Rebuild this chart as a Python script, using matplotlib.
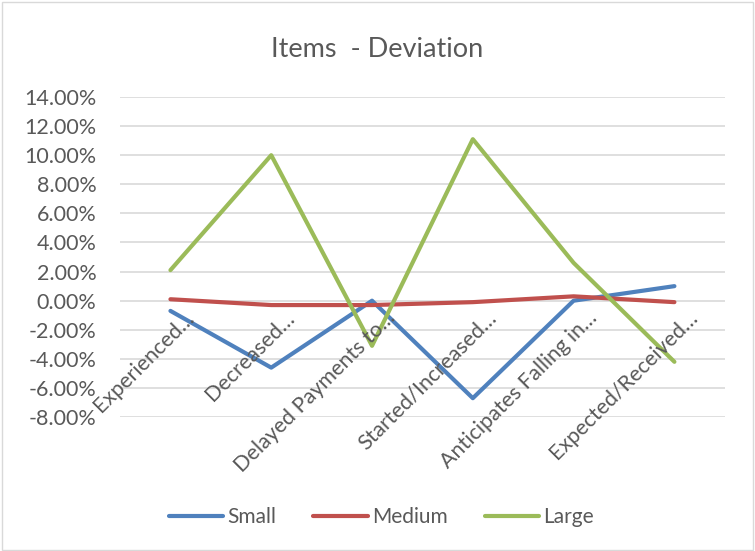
import matplotlib.pyplot as plt
import matplotlib.transforms as mtransforms
from matplotlib.patches import Rectangle
from matplotlib.ticker import FuncFormatter

plt.rcParams["font.family"] = ["Lato", "DejaVu Sans"]

categories = [
    "Experienced\u2026",
    "Decreased\u2026",
    "Delayed Payments to\u2026",
    "Started/Increased\u2026",
    "Anticipates Falling in\u2026",
    "Expected/Received\u2026",
]
small = [-0.7, -4.6, 0.0, -6.7, 0.0, 1.0]
medium = [0.1, -0.3, -0.3, -0.1, 0.3, -0.1]
large = [2.1, 10.0, -3.1, 11.1, 2.6, -4.2]

grey = "#595959"
fig = plt.figure(figsize=(7.55, 5.51), dpi=100)
ax = fig.add_axes([0.159, 0.243, 0.801, 0.581])

x = list(range(len(categories)))
ax.plot(x, small, color="#4F81BD", lw=3, label="Small", solid_capstyle="round")
ax.plot(x, medium, color="#C0504D", lw=3, label="Medium", solid_capstyle="round")
ax.plot(x, large, color="#9BBB59", lw=3, label="Large", solid_capstyle="round")

ax.set_xlim(-0.5, len(categories) - 0.5)
ax.set_ylim(-8, 14)
ax.set_yticks(range(-8, 15, 2))
ax.yaxis.set_major_formatter(FuncFormatter(lambda v, p: "%.2f%%" % v))
ax.tick_params(axis="y", length=0, labelsize=15.5, labelcolor=grey, pad=17)
ax.set_xticks([])
ax.grid(axis="y", color="#d9d9d9", lw=1.2)
ax.set_axisbelow(True)
for s in ax.spines.values():
    s.set_visible(False)

# category labels sit next to the 0% line
off = mtransforms.offset_copy(ax.transData, fig=fig, x=20, y=-14, units="dots")
for i, c in enumerate(categories):
    ax.text(i, 0, c, rotation=45, ha="right", va="center", rotation_mode="anchor",
            transform=off, fontsize=15.5, color=grey)

fig.suptitle("Items  - Deviation", y=0.932, fontsize=19.5, color=grey)
fig.legend(loc="center", bbox_to_anchor=(0.505, 0.062), ncol=3, frameon=False,
           fontsize=15, labelcolor=grey, handlelength=2.6, handletextpad=0.2,
           columnspacing=1.8)

fig.patches.append(Rectangle((0.002, 0.002), 0.996, 0.994, transform=fig.transFigure,
                             fill=False, edgecolor="#d9d9d9", lw=1))

fig.savefig("out.png", dpi=100)
